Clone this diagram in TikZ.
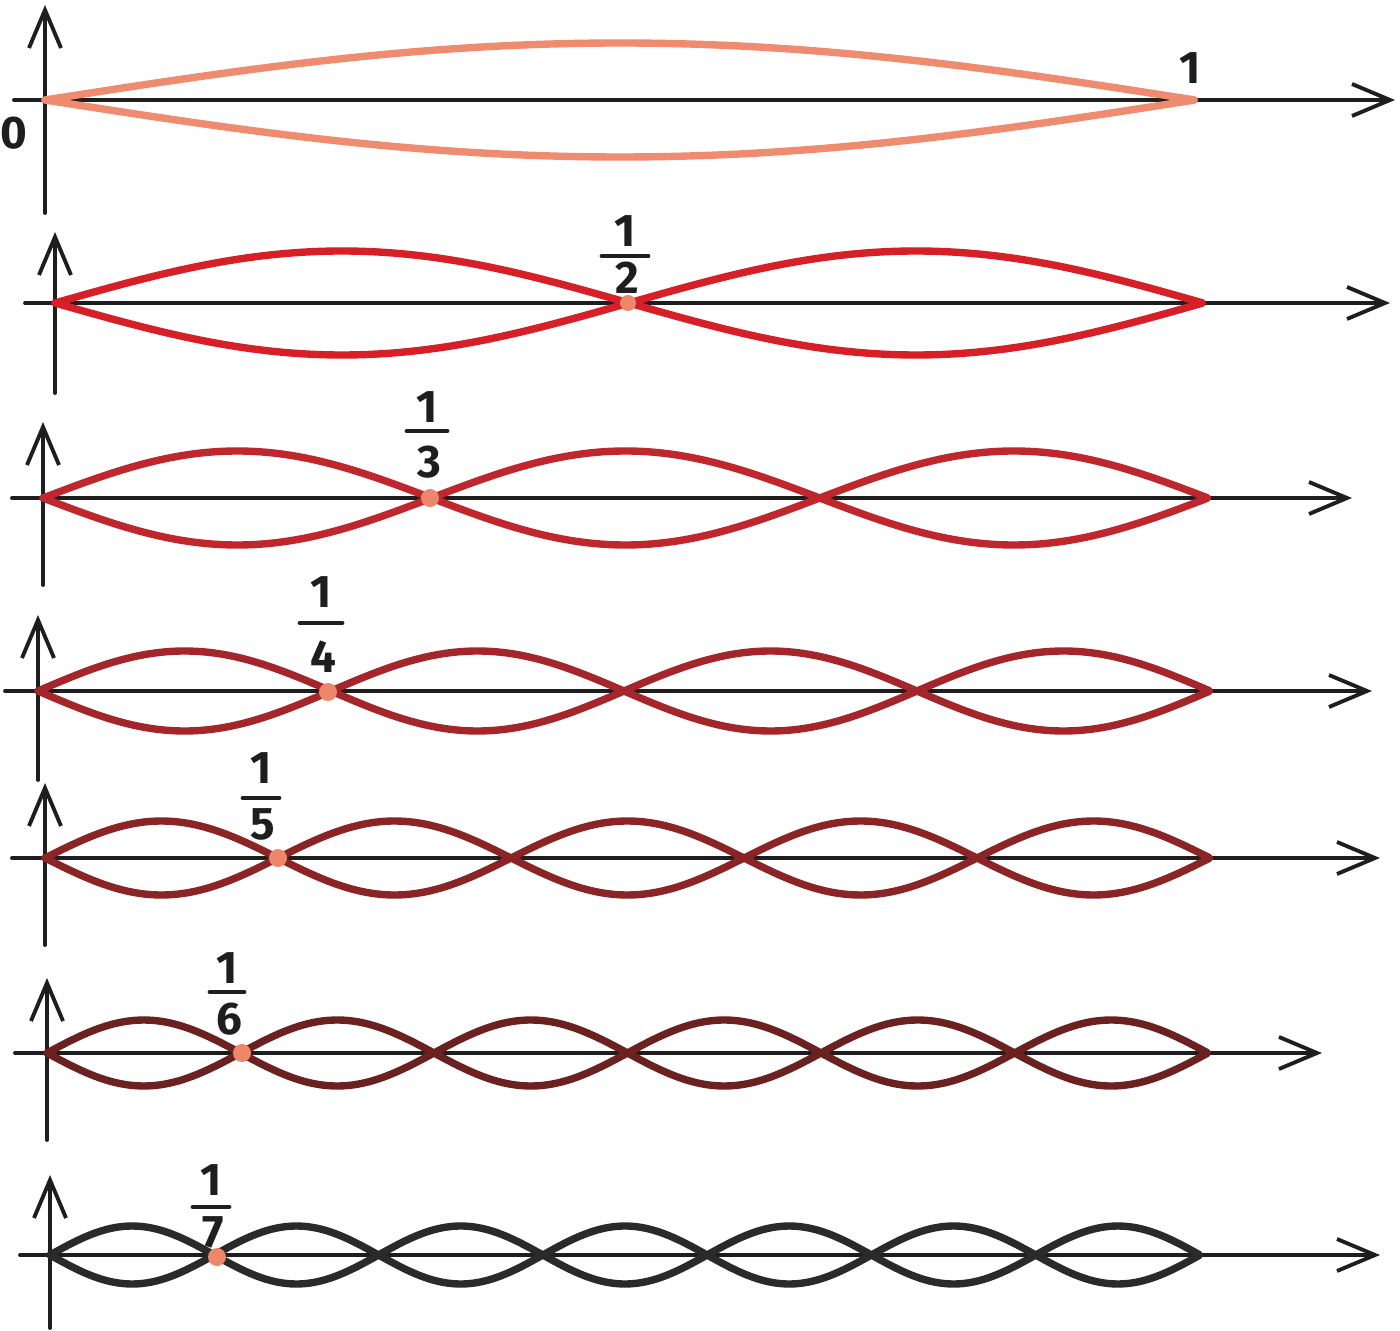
\documentclass[tikz,border=0pt]{standalone}
\usepackage{fontspec}
\setmainfont{Fira Sans}
\usetikzlibrary{arrows.meta}
\definecolor{cA}{HTML}{EF8B6F}
\definecolor{cB}{HTML}{D61F26}
\definecolor{cC}{HTML}{C0272D}
\definecolor{cD}{HTML}{A5262A}
\definecolor{cE}{HTML}{8B2424}
\definecolor{cF}{HTML}{6B211F}
\definecolor{cG}{HTML}{2A2A2A}
\definecolor{dotc}{HTML}{EE8769}
\definecolor{ink}{HTML}{1E1E1E}
\tikzset{
  axis/.style={draw=ink, line width=1.1pt, line cap=round, -{Straight Barb[length=3.8mm,width=3.2mm,line width=1.1pt]}},
  wave/.style={line width=2.1pt, line cap=round, line join=round},
  lbl/.style={font=\fontsize{13}{15}\selectfont\bfseries, text=ink, inner sep=0pt},
  fracbar/.style={draw=ink, line width=1.4pt, line cap=round},
  nodedot/.style={circle, fill=dotc, inner sep=0pt, minimum size=0.15cm}
}
\begin{document}
\begin{tikzpicture}[x=0.01cm,y=-0.01cm]
\useasboundingbox (0,0) rectangle (1400,1331);
% ax, vtop, vbot, hy, hleft, hright, end, n, A, colour
\foreach \i/\ax/\vt/\vb/\hy/\hl/\hr/\e/\n/\A/\c in {
  1/45/5/213/100/14/1395/1195/1/57/cA,
  2/55/232/393/303/25/1390/1203/2/52/cB,
  3/43/422/585/498/12/1352/1208/3/47/cC,
  4/38/615/780/691/5/1372/1210/4/40/cD,
  5/45/783/945/858/12/1380/1210/5/37/cE,
  6/47/978/1140/1053/15/1322/1208/6/33/cF,
  7/50/1175/1328/1255/20/1380/1200/7/29/cG}{
  \coordinate (vb\i) at (\ax,\vb);
  \coordinate (vt\i) at (\ax,\vt);
  \coordinate (hl\i) at (\hl,\hy);
  \coordinate (hr\i) at (\hr,\hy);
  \draw[axis] (vb\i) -- (vt\i);
  \draw[axis] (hl\i) -- (hr\i);
  \draw[wave, draw=\c] plot[domain=0:1, samples=240] ({\ax+\x*(\e-\ax)},{\hy+\A*sin(\n*180*\x)});
  \draw[wave, draw=\c] plot[domain=0:1, samples=240] ({\ax+\x*(\e-\ax)},{\hy-\A*sin(\n*180*\x)});
}
% labels row 1
\node[lbl] (zero) at (14,133) {0};
\node[lbl] (one) at (1190,68) {1};
% fractions
\foreach \d/\cx/\ny/\by/\dy/\bw/\px/\py/\r in {
  2/625/231/256/278/23/628/303/8,
  3/427/407/431/462/20/430/498/9,
  4/321/592/623/657/21/328/692/9,
  5/261/768/798/824/18/278/858/9,
  6/227/968/992/1019/17/242/1053/9,
  7/211/1180/1207/1232/18/217/1257/9}{
  \node[lbl] (num\d) at (\cx,\ny) {1};
  \node[lbl] (den\d) at (\cx+2,\dy) {\d};
  \coordinate (bl\d) at (\cx-\bw,\by);
  \coordinate (br\d) at (\cx+\bw,\by);
  \draw[fracbar] (bl\d) -- (br\d);
  \node[nodedot, minimum size=2*\r*0.01cm] (dot\d) at (\px,\py) {};
}
\end{tikzpicture}
\end{document}
